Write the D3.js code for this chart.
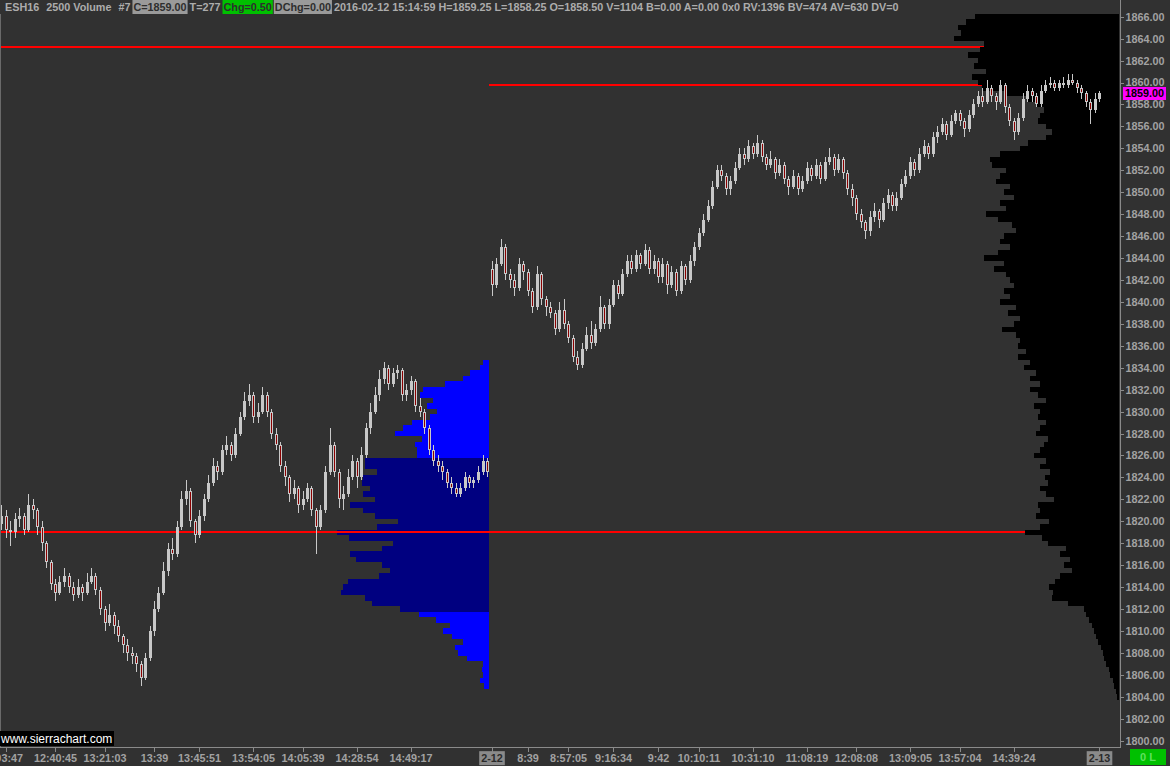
<!DOCTYPE html>
<html>
<head>
<meta charset="utf-8">
<script src="https://cdn.jsdelivr.net/npm/d3@7"></script>
<style>
  html, body { margin: 0; padding: 0; background: #313131; }
  svg { display: block; }
  text { font-family: "Liberation Sans", Arial, sans-serif; }
</style>
</head>
<body>
<div id="chart"></div>
<script>
// ESH16 2500 volume bars, 2-11 / 2-12 sessions with volume profiles

// candle OHLC, one entry per bar
const opens = [
  1819.75, 1820.5, 1819.25, 1819, 1820.25, 1820.5, 1819.25, 1821.5, 1821, 1819.5,
  1818, 1816.25, 1814.25, 1813.5, 1814.5, 1815, 1814, 1813.25, 1814, 1813.5,
  1814.5, 1815, 1813.75, 1812, 1810.75, 1811.5, 1810.5, 1809.5, 1808.75, 1808,
  1807.75, 1807, 1805.75, 1807.5, 1810, 1812, 1813.5, 1815.5, 1817.5, 1817,
  1819.5, 1822, 1822.75, 1820, 1818.75, 1820.5, 1822, 1823.5, 1825, 1824.5,
  1826.5, 1827, 1826, 1828, 1829.5, 1831, 1831.5, 1829.5, 1830, 1831.5,
  1830, 1828, 1827, 1825, 1824, 1822.5, 1823, 1821.5, 1822, 1823,
  1821, 1819.5, 1821, 1824.5, 1827, 1824.5, 1822, 1822.5, 1824, 1825.5,
  1824, 1826, 1828.5, 1830, 1831.5, 1833, 1834, 1832.5, 1833.5, 1833.75,
  1831.5, 1832, 1832.75, 1830.5, 1830, 1828.5, 1826.5, 1825.5, 1825, 1824.5,
  1823.5, 1823, 1822.5, 1823, 1824, 1823.5, 1823.75, 1824.5, 1825.5, 1843,
  1841.5, 1843.5, 1845, 1842.5, 1842, 1841.25, 1843.5, 1842.75, 1841, 1839.5,
  1842.5, 1840.25, 1839.5, 1839, 1837.5, 1839.25, 1838, 1836.75, 1835, 1834.25,
  1835.75, 1837, 1836.25, 1837.5, 1839.5, 1838, 1839.75, 1841.5, 1840.75, 1842.5,
  1843.75, 1843, 1844.25, 1843.5, 1844.75, 1843, 1843.75, 1842.25, 1843.5, 1841.5,
  1842.75, 1841, 1843.25, 1842, 1843.75, 1845, 1846.25, 1847.5, 1848.75, 1850.5,
  1852, 1851.5, 1850.25, 1851, 1852.25, 1853.5, 1853, 1854.25, 1853.5, 1854.5,
  1853.25, 1852.5, 1853, 1851.75, 1852.5, 1851.25, 1850.5, 1851.5, 1850.25, 1851,
  1852.25, 1851.5, 1852.5, 1851.25, 1852.75, 1853.25, 1852, 1853, 1851.75, 1850.25,
  1849.5, 1848, 1847.25, 1846.5, 1847.75, 1848.25, 1847.5, 1849, 1849.75, 1848.75,
  1849.5, 1850.75, 1851.5, 1852.75, 1852, 1853.5, 1854.25, 1853.5, 1855, 1855.5,
  1856.25, 1855.25, 1856.5, 1857.25, 1856.5, 1855.75, 1857, 1858, 1858.75, 1858.25,
  1859.5, 1858.75, 1858.25, 1859.75, 1857.75, 1856.5, 1855.5, 1856.75, 1858.5, 1859.25,
  1858.75, 1858, 1859.25, 1859.75, 1860, 1859.5, 1860, 1859.75, 1860.25, 1860,
  1859.5, 1859, 1858.25, 1857.5, 1858.5
];
const highs = [
  1821.5, 1821, 1820, 1820.75, 1821.25, 1820.75, 1822.5, 1822, 1821.25, 1820,
  1818.25, 1816.5, 1814.75, 1815, 1815.75, 1815.25, 1814.5, 1814.75, 1814.25, 1815.25,
  1815.75, 1815.25, 1814, 1812.25, 1812.5, 1811.75, 1811, 1809.75, 1809.25, 1808.5,
  1808, 1807.25, 1808, 1810.5, 1812.75, 1814, 1816.25, 1818, 1818.5, 1820,
  1822.75, 1823.75, 1823, 1820.25, 1821, 1822.5, 1824.25, 1825.75, 1825.5, 1827,
  1827.75, 1827.25, 1828.5, 1830, 1831.75, 1832.5, 1831.75, 1830.75, 1832.25, 1831.75,
  1830.25, 1828.5, 1827.25, 1825.5, 1824.25, 1823.75, 1823.25, 1822.75, 1823.5, 1823.25,
  1821.25, 1821.5, 1825, 1828.5, 1827.25, 1824.75, 1823.25, 1824.75, 1826, 1825.75,
  1826.75, 1829, 1830.75, 1832.25, 1833.75, 1834.5, 1834.25, 1834, 1834.25, 1834,
  1832.5, 1833.25, 1833, 1831.25, 1830.25, 1828.75, 1827, 1826, 1825.5, 1824.75,
  1824, 1823.5, 1823.5, 1824.5, 1824.25, 1824, 1825, 1826, 1825.75, 1843.75,
  1844, 1845.75, 1845.25, 1843, 1842.5, 1844, 1843.75, 1843, 1841.25, 1843.25,
  1842.75, 1840.5, 1840, 1839.25, 1840, 1840.25, 1838.25, 1837, 1835.5, 1836.25,
  1837.75, 1838.25, 1838, 1840.5, 1839.75, 1840.25, 1842, 1842, 1843, 1844.25,
  1844.25, 1844.75, 1844.5, 1845.25, 1845, 1844.25, 1844, 1844, 1843.75, 1843.25,
  1843, 1843.75, 1843.5, 1844.25, 1845.5, 1846.75, 1848, 1849.25, 1851, 1852.5,
  1852.5, 1851.75, 1851.5, 1852.75, 1854, 1854, 1854.75, 1854.5, 1855.25, 1854.75,
  1853.5, 1853.75, 1853.25, 1853, 1852.75, 1851.5, 1852, 1851.75, 1851.5, 1852.75,
  1852.5, 1853, 1852.75, 1853.25, 1854, 1853.5, 1853.5, 1853.25, 1852, 1850.75,
  1849.75, 1848.5, 1847.5, 1848.25, 1849, 1848.5, 1849.5, 1850.25, 1850, 1850,
  1851.25, 1852, 1853.25, 1853, 1854, 1854.75, 1854.5, 1855.5, 1856, 1856.75,
  1856.5, 1857, 1857.5, 1857.5, 1856.75, 1857.5, 1858.5, 1859.25, 1859.5, 1860.25,
  1859.75, 1859, 1860.25, 1860, 1858, 1856.75, 1857.25, 1859, 1859.75, 1859.5,
  1859, 1859.75, 1860.25, 1860.5, 1860.25, 1860.25, 1860.5, 1860.75, 1860.75, 1860.25,
  1859.75, 1859.25, 1858.5, 1859, 1859.25
];
const lows = [
  1819.25, 1818.5, 1817.75, 1818.5, 1819.5, 1818.75, 1819, 1820.25, 1818.75, 1817.25,
  1815.75, 1813.75, 1812.75, 1813.25, 1814, 1813.5, 1812.75, 1813, 1812.75, 1813.25,
  1814.25, 1813.25, 1811.5, 1810, 1810.5, 1809.75, 1809, 1808, 1807.25, 1807,
  1806.25, 1805, 1805.5, 1807.25, 1809.5, 1811.75, 1813.25, 1815, 1816.5, 1816.75,
  1819.25, 1821.5, 1819.5, 1818, 1818.5, 1820, 1821.75, 1823.25, 1823.75, 1824.25,
  1826, 1825.5, 1825.75, 1827.75, 1829.25, 1830.5, 1829, 1829, 1829.75, 1829.5,
  1827.5, 1826.5, 1824.5, 1823.25, 1821.75, 1822, 1820.75, 1821, 1821.75, 1820.5,
  1817, 1819.25, 1820.75, 1824.25, 1824, 1821.25, 1821, 1822.25, 1823.75, 1823,
  1823.75, 1825.75, 1828, 1829.75, 1831, 1832.5, 1832, 1832.25, 1833, 1831,
  1831, 1831.5, 1830, 1829.5, 1828, 1826, 1825, 1824.5, 1823.75, 1823,
  1822.5, 1822.25, 1822.25, 1822.75, 1823, 1823, 1823.5, 1824.25, 1824, 1840.5,
  1841.25, 1843.25, 1842, 1841.25, 1840.5, 1841, 1842, 1840.5, 1839, 1839.25,
  1839.75, 1838.75, 1838.5, 1837, 1837.25, 1837.5, 1836.25, 1834.5, 1833.75, 1834,
  1835.5, 1835.75, 1836, 1837.25, 1837.5, 1837.5, 1839.5, 1840.25, 1840.5, 1842.25,
  1842.5, 1842.75, 1843, 1843.25, 1842.5, 1842.5, 1841.75, 1841.75, 1840.75, 1841.25,
  1840.5, 1840.75, 1841.5, 1841.75, 1843.25, 1844.75, 1846, 1847.25, 1848.5, 1850.25,
  1851, 1849.75, 1849.75, 1850.75, 1852, 1852.5, 1852.75, 1853, 1853.25, 1852.75,
  1852, 1852.25, 1851.25, 1851.5, 1850.75, 1849.75, 1850.25, 1849.75, 1850, 1850.75,
  1851, 1851.25, 1850.75, 1851, 1852.5, 1851.5, 1851.75, 1851.25, 1849.75, 1848.75,
  1847.5, 1846.75, 1845.75, 1846, 1847.25, 1846.75, 1847.25, 1848.5, 1848.25, 1848.25,
  1849.25, 1850.5, 1851.25, 1851.5, 1851.75, 1853.25, 1853, 1853.25, 1854.5, 1855.25,
  1854.75, 1855, 1856.25, 1856, 1855, 1855.5, 1856.75, 1857.75, 1857.75, 1858,
  1858.25, 1857.5, 1858, 1857.25, 1856, 1854.75, 1855.25, 1856.5, 1858.25, 1858.25,
  1857.75, 1857.75, 1859, 1859.5, 1859.25, 1859.25, 1859.5, 1859.5, 1859.75, 1859,
  1858.5, 1857.75, 1856.25, 1857.25, 1858.25
];
const closes = [
  1820.5, 1819.25, 1819, 1820.25, 1820.5, 1819.25, 1821.5, 1821, 1819.5, 1818,
  1816.25, 1814.25, 1813.5, 1814.5, 1815, 1814, 1813.25, 1814, 1813.5, 1814.5,
  1815, 1813.75, 1812, 1810.75, 1811.5, 1810.5, 1809.5, 1808.75, 1808, 1807.75,
  1807, 1805.75, 1807.5, 1810, 1812, 1813.5, 1815.5, 1817.5, 1817, 1819.5,
  1822, 1822.75, 1820, 1818.75, 1820.5, 1822, 1823.5, 1825, 1824.5, 1826.5,
  1827, 1826, 1828, 1829.5, 1831, 1831.5, 1829.5, 1830, 1831.5, 1830,
  1828, 1827, 1825, 1824, 1822.5, 1823, 1821.5, 1822, 1823, 1821,
  1819.5, 1821, 1824.5, 1827, 1824.5, 1822, 1822.5, 1824, 1825.5, 1824,
  1826, 1828.5, 1830, 1831.5, 1833, 1834, 1832.5, 1833.5, 1833.75, 1831.5,
  1832, 1832.75, 1830.5, 1830, 1828.5, 1826.5, 1825.5, 1825, 1824.5, 1823.5,
  1823, 1822.5, 1823, 1824, 1823.5, 1823.75, 1824.5, 1825.5, 1824.5, 1841.5,
  1843.5, 1845, 1842.5, 1842, 1841.25, 1843.5, 1842.75, 1841, 1839.5, 1842.5,
  1840.25, 1839.5, 1839, 1837.5, 1839.25, 1838, 1836.75, 1835, 1834.25, 1835.75,
  1837, 1836.25, 1837.5, 1839.5, 1838, 1839.75, 1841.5, 1840.75, 1842.5, 1843.75,
  1843, 1844.25, 1843.5, 1844.75, 1843, 1843.75, 1842.25, 1843.5, 1841.5, 1842.75,
  1841, 1843.25, 1842, 1843.75, 1845, 1846.25, 1847.5, 1848.75, 1850.5, 1852,
  1851.5, 1850.25, 1851, 1852.25, 1853.5, 1853, 1854.25, 1853.5, 1854.5, 1853.25,
  1852.5, 1853, 1851.75, 1852.5, 1851.25, 1850.5, 1851.5, 1850.25, 1851, 1852.25,
  1851.5, 1852.5, 1851.25, 1852.75, 1853.25, 1852, 1853, 1851.75, 1850.25, 1849.5,
  1848, 1847.25, 1846.5, 1847.75, 1848.25, 1847.5, 1849, 1849.75, 1848.75, 1849.5,
  1850.75, 1851.5, 1852.75, 1852, 1853.5, 1854.25, 1853.5, 1855, 1855.5, 1856.25,
  1855.25, 1856.5, 1857.25, 1856.5, 1855.75, 1857, 1858, 1858.75, 1858.25, 1859.5,
  1858.75, 1858.25, 1859.75, 1857.75, 1856.5, 1855.5, 1856.75, 1858.5, 1859.25, 1858.75,
  1858, 1859.25, 1859.75, 1860, 1859.5, 1860, 1859.75, 1860.25, 1860, 1859.5,
  1859, 1858.25, 1857.5, 1858.5, 1859
];
const lastBarPrevDay = 108;   // last bar of 2-11 session

// x axis labels (bar index they belong to)
const tickIdx = [1, 12, 23, 34, 44, 56, 67, 79, 91, 109, 117, 126, 136, 146, 155, 167, 179, 190, 202, 213, 225, 244];
const tickText = ["12:03:47", "12:40:45", "13:21:03", "13:39", "13:45:51", "13:54:05", "14:05:39", "14:28:54", "14:49:17",
  "2-12", "8:39", "8:57:05", "9:16:34", "9:42", "10:10:11", "10:31:10", "11:08:19", "12:08:08", "13:09:05", "13:57:04", "14:39:24", "2-13"];

// volume profile of 2-11 session (hundreds), 0.5 pt rows from top price down
const blueTop = 1834.5;
const blueVol = [
  6, 9, 19, 26, 44, 66, 69, 56, 62, 52,
  59, 77, 86, 94, 67, 74, 72, 72, 124, 124,
  112, 126, 127, 119, 126, 114, 139, 126, 114, 91,
  112, 152, 140, 96, 107, 139, 133, 107, 99, 110,
  141, 146, 148, 124, 117, 89, 70, 53, 39, 46,
  37, 26, 34, 31, 22, 6, 7, 6, 9, 5
];
const valueAreaHigh = 1825.75;
const valueAreaLow = 1812;

// volume profile of 2-12 session
const blackTop = 1866;
const blackVol = [
  144, 153, 161, 158, 165, 135, 139, 151, 141, 145,
  133, 147, 141, 137, 114, 91, 83, 75, 79, 81,
  73, 67, 73, 91, 99, 119, 129, 127, 113, 119,
  123, 109, 115, 105, 119, 113, 133, 121, 107, 103,
  115, 119, 109, 121, 135, 115, 125, 113, 109, 105,
  115, 109, 119, 103, 111, 99, 105, 117, 103, 99,
  101, 93, 101, 89, 95, 83, 89, 79, 89, 81,
  73, 85, 79, 81, 73, 79, 83, 71, 75, 79,
  85, 73, 79, 69, 74, 71, 79, 73, 65, 81,
  79, 83, 70, 79, 94, 77, 71, 53, 59, 49,
  55, 47, 59, 64, 70, 66, 67, 51, 35, 33,
  30, 27, 25, 23, 21, 18, 16, 15, 13, 10,
  9, 6, 5, 3, 2
];

// horizontal reference lines: price and bar index where they start
const refLevels = [1863.25, 1859.75, 1819];
const refStart = [0, 109, 0];

const lastPrice = 1859.00;

const headerParts = [
  { t: "ESH16" }, { t: "2500 Volume" }, { t: "#7" },
  { t: "C=1859.00", box: "#9a9a9a" }, { t: "T=277" },
  { t: "Chg=0.50", box: "#00c000" }, { t: "DChg=0.00", box: "#9a9a9a" },
  { t: "2016-02-12 15:14:59 H=1859.25 L=1858.25 O=1858.50 V=1104 B=0.00 A=0.00 0x0 RV:1396 BV=474 AV=630 DV=0" }
];

function drawChart() {
  const width = 1170, height = 766;
  const plotTop = 14, plotRight = 1119, axisY = 747;
  const N = closes.length;
  const barStep = 4.5;
  const textCol = "#a2a2a2";
  const fs = "10.8px";

  const svg = d3.select("#chart").append("svg")
    .attr("width", width).attr("height", height);

  svg.append("rect").attr("width", width).attr("height", height).attr("fill", "#313131");

  svg.append("defs").append("clipPath").attr("id", "plotClip")
    .append("rect").attr("x", 0).attr("y", plotTop)
    .attr("width", plotRight).attr("height", axisY - plotTop);

  const x = d3.scaleLinear().domain([0, N - 1]).range([1, 1 + barStep * (N - 1)]);
  const y = d3.scaleLinear().domain([1800, 1866]).range([740.7, 16.7]);
  const vol = d3.scaleLinear().domain([0, 100]).range([0, 100]);

  const plot = svg.append("g").attr("clip-path", "url(#plotClip)")
    .attr("shape-rendering", "crispEdges");

  // 2-11 profile, right aligned to the end of the session
  const blueRight = x(lastBarPrevDay + 0.5);
  plot.append("g").selectAll("rect")
    .data(blueVol)
    .join("rect")
    .attr("x", d => blueRight - vol(d))
    .attr("y", (d, i) => Math.round(y(blueTop - i * 0.5 + 0.25)))
    .attr("width", d => vol(d))
    .attr("height", (d, i) => Math.round(y(blueTop - i * 0.5 - 0.25)) - Math.round(y(blueTop - i * 0.5 + 0.25)))
    .attr("fill", (d, i) => {
      const p = blueTop - i * 0.5;
      return (p <= valueAreaHigh && p >= valueAreaLow) ? "#000080" : "#0000ff";
    });

  // red reference lines
  plot.append("g").selectAll("line")
    .data(refLevels)
    .join("line")
    .attr("x1", (d, i) => x(refStart[i] - 0.5))
    .attr("x2", plotRight)
    .attr("y1", d => Math.round(y(d)))
    .attr("y2", d => Math.round(y(d)))
    .attr("stroke", "#ff0000")
    .attr("stroke-width", 2);

  // 2-12 profile at the right edge
  plot.append("g").selectAll("rect")
    .data(blackVol)
    .join("rect")
    .attr("x", d => plotRight - vol(d))
    .attr("y", (d, i) => Math.round(y(blackTop - i * 0.5 + 0.25)))
    .attr("width", d => vol(d))
    .attr("height", (d, i) => Math.round(y(blackTop - i * 0.5 - 0.25)) - Math.round(y(blackTop - i * 0.5 + 0.25)))
    .attr("fill", "#000000");

  // candles
  const bars = d3.range(N).map(i => ({ i, o: opens[i], h: highs[i], l: lows[i], c: closes[i] }));
  const cg = plot.append("g");
  cg.selectAll("line.wick")
    .data(bars)
    .join("line")
    .attr("class", "wick")
    .attr("x1", d => Math.round(x(d.i)) + 0.5)
    .attr("x2", d => Math.round(x(d.i)) + 0.5)
    .attr("y1", d => Math.round(y(d.h)))
    .attr("y2", d => Math.round(y(d.l)))
    .attr("stroke", "#c8c8c8")
    .attr("stroke-width", 1);

  const bodyTop = d => Math.round(y(Math.max(d.o, d.c)));
  const bodyH = d => Math.max(1, Math.round(y(Math.min(d.o, d.c))) - bodyTop(d));

  cg.selectAll("rect.body")
    .data(bars)
    .join("rect")
    .attr("class", "body")
    .attr("x", d => Math.round(x(d.i)) - 1)
    .attr("y", bodyTop)
    .attr("width", 3)
    .attr("height", bodyH)
    .attr("fill", "#c8c8c8");

  cg.selectAll("rect.down")
    .data(bars.filter(d => d.c < d.o))
    .join("rect")
    .attr("class", "down")
    .attr("x", d => Math.round(x(d.i)))
    .attr("y", d => bodyTop(d) + 1)
    .attr("width", 1)
    .attr("height", d => Math.max(0, bodyH(d) - 2))
    .attr("fill", "#8b0000");

  // frame lines
  const frame = svg.append("g").attr("shape-rendering", "crispEdges").attr("stroke", "#8a8a8a");
  frame.append("line").attr("x1", 0.5).attr("x2", 0.5).attr("y1", plotTop).attr("y2", axisY).attr("stroke", "#6a6a6a");
  frame.append("line").attr("x1", plotRight + 1.5).attr("x2", plotRight + 1.5).attr("y1", 0).attr("y2", axisY + 0.5);
  frame.append("line").attr("x1", 0).attr("x2", plotRight + 2).attr("y1", axisY + 0.5).attr("y2", axisY + 0.5);

  // y axis
  const yAxis = svg.append("g")
    .attr("transform", `translate(${plotRight + 1.5},0)`)
    .call(d3.axisRight(y).tickValues(d3.range(1800, 1867, 2)).tickFormat(d3.format(".2f"))
      .tickSize(3).tickPadding(2));
  yAxis.select(".domain").remove();
  yAxis.selectAll(".tick line").attr("stroke", "#8a8a8a").attr("shape-rendering", "crispEdges");
  yAxis.selectAll(".tick text")
    .attr("fill", textCol)
    .style("font-size", fs).style("font-weight", "bold")
    .style("font-family", "'Liberation Sans', Arial, sans-serif");

  // x axis, ticks at bar positions
  const xAxis = svg.append("g")
    .attr("transform", `translate(0,${axisY + 0.5})`)
    .call(d3.axisBottom(x).tickValues(tickIdx)
      .tickFormat(d => tickText[tickIdx.indexOf(d)])
      .tickSize(4).tickPadding(3));
  xAxis.select(".domain").remove();
  xAxis.selectAll(".tick line").attr("stroke", "#8a8a8a").attr("shape-rendering", "crispEdges");
  xAxis.selectAll(".tick text")
    .attr("fill", textCol)
    .style("font-size", fs).style("font-weight", "bold")
    .style("font-family", "'Liberation Sans', Arial, sans-serif");
  // first label is cut at the left edge, as in the source chart
  xAxis.selectAll(".tick").filter(d => d === tickIdx[0]).select("text")
    .attr("text-anchor", "end").attr("x", 17);
  // date labels get a gray box
  xAxis.selectAll(".tick").filter(d => /^\d+-\d+$/.test(tickText[tickIdx.indexOf(d)]))
    .each(function () {
      const t = d3.select(this).select("text");
      const bb = t.node().getBBox();
      d3.select(this).insert("rect", "text")
        .attr("x", bb.x - 2).attr("y", bb.y - 1)
        .attr("width", bb.width + 4).attr("height", bb.height + 2)
        .attr("fill", "#8a8a8a");
      t.attr("fill", "#2a2a2a");
    });

  // last price marker
  const lp = svg.append("g").attr("transform", `translate(${plotRight + 4},${y(lastPrice)})`);
  lp.append("rect").attr("x", 0).attr("y", -6.5).attr("width", 43).attr("height", 13).attr("fill", "#ff00ff");
  lp.append("text").attr("x", 2).attr("dy", "0.36em").text(d3.format(".2f")(lastPrice))
    .attr("fill", "#000").style("font-size", fs).style("font-weight", "bold");

  // "0 L" status box
  svg.append("rect").attr("x", 1130).attr("y", 749).attr("width", 36).attr("height", 16).attr("fill", "#00c000");
  svg.append("text").attr("x", 1148).attr("y", 761).attr("text-anchor", "middle")
    .attr("fill", "#5ee05e").style("font-size", "11px").style("font-weight", "bold").text("0 L");

  // watermark
  svg.append("rect").attr("x", 0).attr("y", 731).attr("width", 114).attr("height", 15).attr("fill", "#000");
  svg.append("text").attr("x", 1).attr("y", 742.5).attr("fill", "#ffffff")
    .style("font-size", "12px").text("www.sierrachart.com");

  // header line
  const header = svg.append("g");
  let hx = 5;
  headerParts.forEach((p, i) => {
    const t = header.append("text").attr("x", hx).attr("y", 11)
      .attr("fill", p.box ? "#2e2e2e" : "#acacac")
      .style("font-size", fs).style("font-weight", "bold")
      .text(p.t);
    const w = t.node().getComputedTextLength();
    if (p.box) {
      header.insert("rect", "text").attr("x", hx - 1).attr("y", 0)
        .attr("width", w + 2).attr("height", 14).attr("fill", p.box);
    }
    const next = headerParts[i + 1];
    hx += w + ((p.box || (next && next.box)) ? 3 : 7);
  });
}

document.addEventListener("DOMContentLoaded", drawChart);
</script>
</body>
</html>
